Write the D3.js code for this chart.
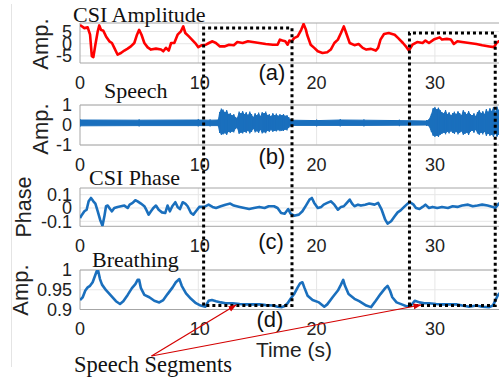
<!DOCTYPE html>
<html>
<head>
<meta charset="utf-8">
<script src="https://cdn.jsdelivr.net/npm/d3@7"></script>
<style>
  html, body { margin: 0; padding: 0; background: #fff; }
  svg { display: block; }
</style>
</head>
<body>
<svg id="chart" width="499" height="379"></svg>
<script>
// ---- data -------------------------------------------------------------
const xTicks = [0, 10, 20, 30];

// (a) CSI amplitude
const ampTime = [0,0.37,0.65,0.85,1.0,1.13,1.3,1.5,1.63,1.77,1.97,2.2,2.48,2.7,2.9,3.18,3.46,3.75,4.03,4.3,4.59,4.82,5.0,5.2,5.44,5.72,6.0,6.42,6.85,7.04,7.27,7.5,7.7,7.97,8.25,8.53,8.73,8.9,9.2,9.46,9.8,10.0,10.3,10.65,10.9,11.2,11.49,11.83,12.2,12.6,13.0,13.3,13.75,14.2,14.6,15.15,15.7,16.3,16.7,16.9,17.1,17.35,17.55,17.7,17.9,18.1,18.4,18.7,18.9,19.1,19.2,19.5,19.8,20.1,20.5,20.9,21.2,21.5,21.8,22.06,22.3,22.5,22.8,23.2,23.55,23.9,24.2,24.6,25.0,25.2,25.4,25.7,26.1,26.6,26.9,27.3,27.6,27.8,28.1,28.5,28.96,29.2,29.5,29.9,30.4,30.6,31.0,31.35,31.6,31.9,32.3,32.9,33.5,34.0,34.6,35.0,35.2,35.4,36];
const ampValues = [7.7,6.4,6.7,3.7,-5.1,-5.5,-0.4,5.1,7.5,5.7,5.3,3.0,1.0,0.3,-1.7,-4.5,-3.8,-2.8,-2.0,-1.1,0.3,3.7,5.7,3.7,0.3,-1.5,-2.4,-2.0,-2.4,-3.1,-1.7,-2.8,0.3,0.3,3.7,5.1,7.1,4.4,3.0,1.7,-0.1,-1.4,-0.6,-0.4,0.3,1.0,0.3,-1.1,-1.1,-0.4,-0.6,0.7,0.3,1.0,0.7,0.3,-0.1,-0.4,-0.4,1.7,1.3,1.0,-0.4,1.3,1.0,2.3,3.0,5.7,8.1,5.7,3.7,-0.4,-1.7,-3.1,-3.8,-3.5,-2.4,0.3,1.7,4.4,7.1,4.4,0.3,-0.6,-0.1,-1.7,-2.4,-2.1,-2.8,-1.7,1.7,4.0,4.4,3.7,2.3,0.3,-1.4,-2.8,-0.4,0.7,0.3,1.3,0.3,1.7,2.6,1.7,2.0,1.7,-0.1,1.0,0.7,0.3,-0.1,-0.6,-1.1,-1.4,0.3,1.0,1.8];
const ampTicks = [-5, 0, 5];

// (b) speech waveform, stored as its upper and lower envelope
const speechTime = [0,5,10,11.0,11.7,11.8,11.95,12.1,12.25,12.4,12.55,12.7,12.85,13.0,13.15,13.3,13.45,13.6,13.75,13.9,14.05,14.2,14.35,14.5,14.65,14.8,14.95,15.1,15.25,15.4,15.55,15.7,15.85,16.0,16.15,16.3,16.45,16.6,16.75,16.9,17.05,17.2,17.35,17.5,17.65,17.75,17.85,20,22,24,27,29.3,29.5,29.7,29.85,30.0,30.15,30.3,30.45,30.6,30.75,30.9,31.05,31.2,31.35,31.5,31.65,31.8,31.95,32.1,32.25,32.4,32.55,32.7,32.85,33.0,33.15,33.3,33.45,33.6,33.75,33.9,34.05,34.2,34.35,34.5,34.65,34.8,34.95,35.1,35.25,35.4,35.6,36];
const speechUpper = [0.25,0.24,0.25,0.24,0.25,0.6,0.78,0.72,0.6,0.7,0.5,0.55,0.45,0.5,0.35,0.32,0.62,0.55,0.65,0.5,0.6,0.45,0.62,0.5,0.35,0.55,0.45,0.58,0.4,0.6,0.55,0.62,0.45,0.5,0.4,0.55,0.45,0.52,0.42,0.5,0.45,0.5,0.42,0.45,0.35,0.25,0.24,0.22,0.25,0.24,0.22,0.2,0.25,0.5,0.8,0.85,0.75,0.82,0.7,0.6,0.55,0.7,0.5,0.6,0.45,0.55,0.62,0.5,0.65,0.55,0.45,0.7,0.6,0.5,0.65,0.5,0.45,0.55,0.4,0.6,0.7,0.55,0.65,0.5,0.75,0.6,0.8,0.65,0.85,0.6,0.88,0.7,0.8,0.7];
const speechLower = [-0.04,-0.03,-0.03,-0.03,-0.03,-0.35,-0.45,-0.42,-0.38,-0.45,-0.3,-0.35,-0.3,-0.32,-0.15,-0.12,-0.4,-0.35,-0.38,-0.3,-0.35,-0.25,-0.38,-0.3,-0.15,-0.32,-0.28,-0.35,-0.2,-0.38,-0.33,-0.36,-0.25,-0.3,-0.22,-0.3,-0.25,-0.28,-0.22,-0.26,-0.25,-0.25,-0.2,-0.22,-0.1,-0.03,-0.02,-0.02,-0.02,-0.02,-0.01,0.0,-0.03,-0.3,-0.5,-0.55,-0.5,-0.55,-0.45,-0.4,-0.35,-0.42,-0.3,-0.38,-0.28,-0.35,-0.4,-0.3,-0.42,-0.35,-0.28,-0.45,-0.4,-0.35,-0.45,-0.3,-0.25,-0.35,-0.2,-0.38,-0.45,-0.35,-0.42,-0.3,-0.5,-0.4,-0.5,-0.45,-0.55,-0.4,-0.55,-0.45,-0.5,-0.45];
const speechTicks = [-1, 0, 1];

// (c) CSI phase
const phaseTime = [0,0.17,0.37,0.56,0.73,0.93,1.13,1.3,1.5,1.7,1.9,2.06,2.2,2.34,2.54,2.7,2.9,3.18,3.46,3.75,4.03,4.2,4.45,4.68,4.87,5.15,5.44,5.63,5.8,6.0,6.2,6.42,6.65,6.93,7.2,7.4,7.6,7.8,8.06,8.25,8.45,8.68,8.9,9.1,9.38,9.58,9.8,10.08,10.5,10.87,11.2,11.5,11.9,12.3,12.7,13.0,13.5,13.9,14.3,14.7,15.15,15.6,15.95,16.4,16.7,17.0,17.3,17.6,17.8,18.1,18.5,18.8,19.1,19.4,19.6,19.8,20.1,20.4,20.6,20.9,21.2,21.5,21.8,22.06,22.3,22.5,22.8,23.0,23.2,23.5,23.75,24.1,24.45,24.9,25.2,25.5,25.8,26.0,26.3,26.6,26.85,27.1,27.4,27.7,27.9,28.2,28.4,28.7,28.96,29.2,29.5,29.8,30.2,30.6,31.1,31.5,31.9,32.3,32.8,33.2,33.6,34.0,34.45,34.9,35.1,35.4,36];
const phaseValues = [-0.075,-0.05,-0.025,-0.013,0.05,0.075,0.05,0.033,-0.025,-0.088,-0.133,-0.063,0.013,0.018,-0.008,-0.025,0.0,0.008,0.013,0.018,0.0,0.025,0.038,0.058,0.05,0.033,0.013,-0.018,-0.05,-0.025,0.0,0.018,-0.013,-0.033,-0.038,0.018,-0.025,0.013,0.043,0.008,-0.008,0.043,0.033,0.013,-0.038,-0.05,-0.025,0.008,0.008,0.025,0.008,0.0,0.013,0.025,0.033,0.018,0.008,0.0,-0.008,0.0,0.008,0.0,0.013,0.013,0.0,-0.038,-0.043,-0.008,-0.043,-0.058,-0.05,-0.025,0.018,0.063,0.075,0.038,0.0,0.008,0.025,0.038,0.05,0.025,-0.013,0.008,0.013,0.033,0.063,0.033,0.013,0.025,0.018,0.025,0.033,0.025,0.038,-0.013,-0.088,-0.118,-0.1,-0.063,-0.033,-0.018,0.008,0.033,0.043,0.025,0.0,-0.008,0.008,0.025,0.0,0.008,0.0,0.008,0.0,0.013,0.008,0.018,0.025,0.013,0.018,0.025,0.018,0.008,0.0,0.033,0.05];
const phaseTicks = [-0.1, 0, 0.1];

// (d) breathing
const breathTime = [0,0.23,0.45,0.65,0.85,1.07,1.24,1.41,1.52,1.69,1.86,2.2,2.62,3.04,3.38,3.66,4.03,4.39,4.68,4.87,5.0,5.15,5.44,5.86,6.28,6.7,7.04,7.4,7.83,8.1,8.4,8.6,8.96,9.38,9.8,10.2,10.6,10.87,11.15,11.5,11.9,12.3,12.9,13.5,14.0,14.6,15.2,15.7,16.3,16.7,17.07,17.3,17.55,17.8,18.1,18.4,18.6,18.8,18.96,19.24,19.66,20.2,20.65,20.9,21.35,21.8,22.06,22.25,22.4,22.7,23.2,23.6,24.2,24.6,25.0,25.4,25.8,26.0,26.2,26.4,26.76,27.2,27.7,28.06,28.3,28.7,29.1,29.5,30.1,30.6,31.2,31.8,32.3,32.9,33.5,34.0,34.6,34.9,35.1,35.3,35.5,36];
const breathValues = [0.924,0.931,0.948,0.956,0.96,0.969,0.983,0.997,1.0,0.977,0.963,0.949,0.935,0.921,0.914,0.921,0.937,0.954,0.964,0.975,0.975,0.954,0.937,0.931,0.922,0.918,0.924,0.939,0.956,0.969,0.977,0.96,0.941,0.927,0.916,0.91,0.907,0.922,0.924,0.921,0.918,0.916,0.916,0.914,0.913,0.913,0.913,0.911,0.91,0.907,0.906,0.909,0.916,0.927,0.939,0.956,0.966,0.969,0.956,0.935,0.924,0.918,0.907,0.913,0.931,0.948,0.963,0.975,0.96,0.939,0.927,0.921,0.91,0.906,0.922,0.939,0.954,0.96,0.948,0.931,0.918,0.913,0.907,0.913,0.922,0.918,0.916,0.916,0.914,0.913,0.913,0.913,0.91,0.907,0.91,0.907,0.906,0.91,0.922,0.935,0.942,0.96];
const breathTicks = [0.9, 0.95, 1];

// speech segments (seconds) marked by the dotted boxes
const segmentStart = [10.45, 27.85];
const segmentEnd = [17.92, 35.1];

// ---- layout -------------------------------------------------------------
const svg = d3.select("#chart");
const W = 499, H = 379;
const left = 80;
const pxPerSec = 11.83;
const x = d3.scaleLinear().domain([0, 36]).range([left, left + 36 * pxPerSec]);

const blue = "#1a6fbd";
const sans = "'Liberation Sans', Arial, sans-serif";
const serif = "'Liberation Serif', 'Times New Roman', serif";

svg.append("rect").attr("width", W).attr("height", H).attr("fill", "#fff");

// faint frame line on the far left
svg.append("line").attr("x1", 11.5).attr("x2", 11.5).attr("y1", 4).attr("y2", 367)
  .attr("stroke", "#e4e4e4").attr("stroke-width", 1);

const panels = [
  { key: "a", top: 23, bottom: 63, domain: [-7.9, 8.5], ticks: ampTicks, fmt: d => String(d),
    title: "CSI Amplitude", titleX: 73, titleY: 22, ylab: "Amp.", ylabX: 48, ylabY: 44,
    tag: "(a)", tagX: 272, tagY: 80, xlabY: 89 },
  { key: "b", top: 105, bottom: 145, domain: [-1, 1], ticks: speechTicks, fmt: d => String(d),
    title: "Speech", titleX: 104, titleY: 98, ylab: "Amp.", ylabX: 48, ylabY: 129,
    tag: "(b)", tagX: 272, tagY: 164, xlabY: 171 },
  { key: "c", top: 188, bottom: 226.3, domain: [-0.1376, 0.15], ticks: phaseTicks, fmt: d => String(d),
    title: "CSI Phase", titleX: 89, titleY: 185, ylab: "Phase", ylabX: 31, ylabY: 207,
    tag: "(c)", tagX: 271, tagY: 249, xlabY: 252 },
  { key: "d", top: 270, bottom: 309.5, domain: [0.9, 1.0], ticks: breathTicks, fmt: d => String(d),
    title: "Breathing", titleX: 92, titleY: 267, ylab: "Amp.", ylabX: 28, ylabY: 290,
    tag: "(d)", tagX: 270, tagY: 327, xlabY: 335 }
];

panels.forEach(p => {
  p.y = d3.scaleLinear().domain(p.domain).range([p.bottom, p.top]);
  const g = svg.append("g");

  // clip to the plotting box
  g.append("clipPath").attr("id", "clip-" + p.key)
    .append("rect").attr("x", left).attr("y", p.top)
    .attr("width", W - left + 20).attr("height", p.bottom - p.top);

  // grid
  g.selectAll(".vg").data(xTicks.slice(1)).join("line")
    .attr("x1", d => x(d)).attr("x2", d => x(d))
    .attr("y1", p.top).attr("y2", p.bottom)
    .attr("stroke", "#e6e6e6").attr("stroke-width", 1);
  g.selectAll(".hg").data(p.ticks).join("line")
    .attr("x1", left).attr("x2", W)
    .attr("y1", d => p.y(d)).attr("y2", d => p.y(d))
    .attr("stroke", "#e6e6e6").attr("stroke-width", 1);

  // box (top, left, bottom)
  g.append("path")
    .attr("d", `M${W + 2},${p.top}H${left}V${p.bottom}H${W + 2}`)
    .attr("fill", "none").attr("stroke", "#a6a6a6").attr("stroke-width", 1);

  // tick labels
  g.selectAll(".yt").data(p.ticks).join("text")
    .attr("x", 72).attr("y", d => p.y(d))
    .attr("dy", "0.36em").attr("text-anchor", "end")
    .attr("font-family", sans).attr("font-size", 18).attr("fill", "#222")
    .text(p.fmt);
  g.selectAll(".xt").data(xTicks).join("text")
    .attr("x", d => x(d) + (d === 10 ? 1.5 : 0)).attr("y", p.xlabY)
    .attr("text-anchor", "middle")
    .attr("font-family", sans).attr("font-size", 18).attr("fill", "#222")
    .text(d => d);

  // axis label
  g.append("text")
    .attr("transform", `translate(${p.ylabX},${p.ylabY}) rotate(-90)`)
    .attr("text-anchor", "middle")
    .attr("font-family", sans).attr("font-size", p.ylab === "Phase" ? 21.5 : 22).attr("fill", "#222")
    .text(p.ylab);

  // panel title
  g.append("text").attr("x", p.titleX).attr("y", p.titleY)
    .attr("font-family", serif).attr("font-size", 22).attr("fill", "#111")
    .text(p.title);

  // panel tag
  g.append("text").attr("x", p.tagX).attr("y", p.tagY)
    .attr("text-anchor", "middle")
    .attr("font-family", sans).attr("font-size", 22).attr("fill", "#111")
    .text(p.tag);

  p.g = g;
});

// ---- series -------------------------------------------------------------
function drawLine(p, ts, vs, color) {
  const pts = ts.map((t, i) => [t, vs[i]]);
  p.g.append("path")
    .attr("clip-path", `url(#clip-${p.key})`)
    .attr("d", d3.line().x(d => x(d[0])).y(d => p.y(d[1]))(pts))
    .attr("fill", "none").attr("stroke", color)
    .attr("stroke-width", 2.6).attr("stroke-linejoin", "round");
}

drawLine(panels[0], ampTime, ampValues, "#ff0000");

{
  const p = panels[1];
  const pts = speechTime.map((t, i) => [t, speechUpper[i], speechLower[i]]);
  p.g.append("path")
    .attr("clip-path", `url(#clip-${p.key})`)
    .attr("d", d3.area().x(d => x(d[0])).y0(d => p.y(d[2])).y1(d => p.y(d[1])).curve(d3.curveLinear)(pts))
    .attr("fill", blue).attr("stroke", blue).attr("stroke-width", 1);
  // fine vertical strokes through the envelope, giving the dense-waveform texture
  p.g.selectAll(".sv").data(pts).join("line")
    .attr("clip-path", `url(#clip-${p.key})`)
    .attr("x1", d => x(d[0])).attr("x2", d => x(d[0]))
    .attr("y1", d => p.y(d[1]) - 1).attr("y2", d => p.y(d[2]) + 1)
    .attr("stroke", blue).attr("stroke-width", 1.2);
}

drawLine(panels[2], phaseTime, phaseValues, blue);
drawLine(panels[3], breathTime, breathValues, blue);

// ---- speech segment boxes -----------------------------------------------
const boxTop = [28, 33];
const boxBottom = 305.5;
segmentStart.forEach((s, i) => {
  svg.append("path")
    .attr("d", `M${x(s)},${boxBottom}V${boxTop[i]}H${x(segmentEnd[i])}V${boxBottom}Z`)
    .attr("fill", "none").attr("stroke", "#000")
    .attr("stroke-width", 3).attr("stroke-dasharray", "3,3");
});

// ---- annotation arrows ----------------------------------------------------
const defs = svg.append("defs");
defs.append("marker").attr("id", "arrowhead")
  .attr("viewBox", "0 0 10 10").attr("refX", 9).attr("refY", 5)
  .attr("markerWidth", 7).attr("markerHeight", 7).attr("orient", "auto")
  .append("path").attr("d", "M0,1.5L10,5L0,8.5Z").attr("fill", "#d40000");

const arrowFrom = [151.5, 356];
const arrowTargets = [[236, 305], [421, 305]];
arrowTargets.forEach(t => {
  svg.append("line")
    .attr("x1", arrowFrom[0]).attr("y1", arrowFrom[1])
    .attr("x2", t[0]).attr("y2", t[1])
    .attr("stroke", "#d40000").attr("stroke-width", 1.2)
    .attr("marker-end", "url(#arrowhead)");
});

svg.append("text").attr("x", 74).attr("y", 372)
  .attr("font-family", serif).attr("font-size", 22.5).attr("fill", "#111")
  .text("Speech Segments");

svg.append("text").attr("x", 294).attr("y", 357)
  .attr("text-anchor", "middle")
  .attr("font-family", sans).attr("font-size", 21).attr("fill", "#222")
  .text("Time (s)");
</script>
</body>
</html>
